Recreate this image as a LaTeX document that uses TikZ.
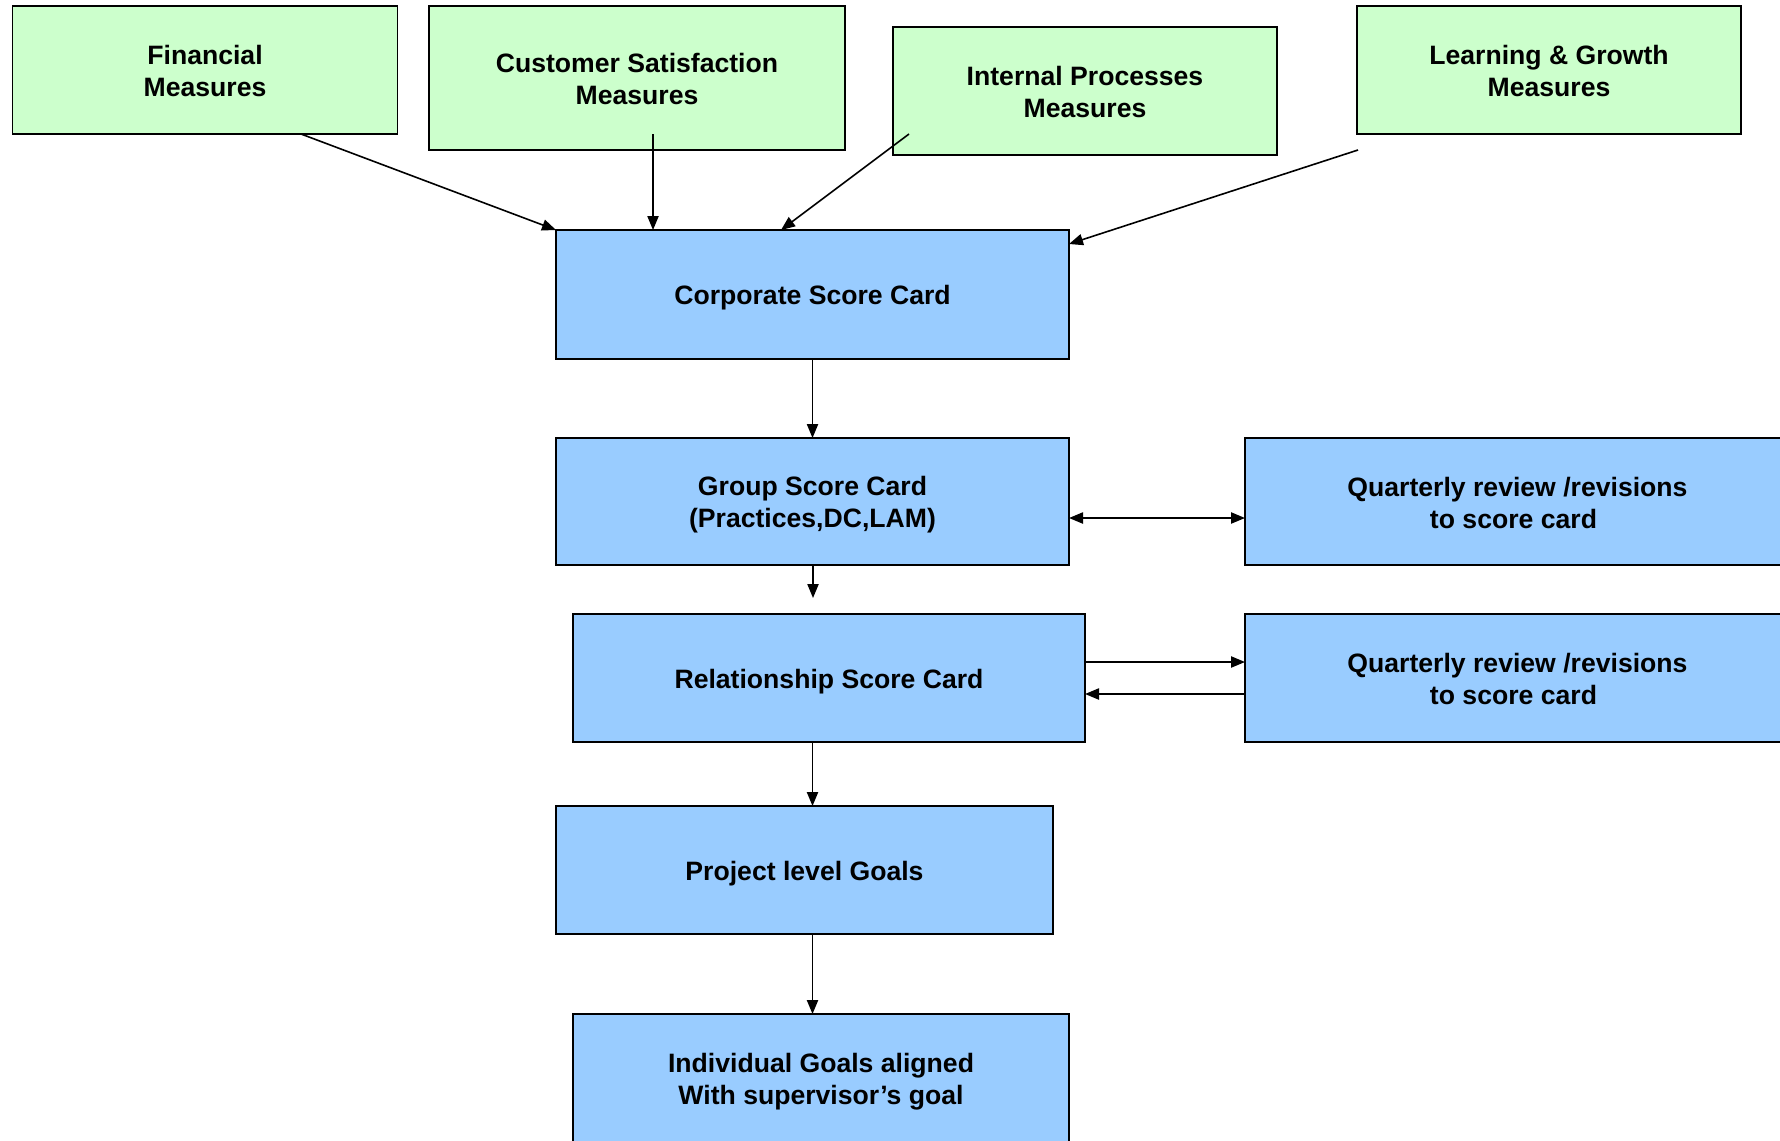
\documentclass[tikz,border=0pt]{standalone}
\usepackage{fontspec}
\setmainfont{Liberation Sans}
\usetikzlibrary{arrows.meta}
\definecolor{measuregreen}{HTML}{CCFFCC}
\definecolor{cardblue}{HTML}{99CCFF}
\begin{document}
\begin{tikzpicture}[x=0.5pt,y=-0.5pt,
  boxtext/.style={align=center, inner sep=0pt,
    font=\fontsize{13.3}{16}\selectfont\bfseries},
  box/.style 2 args={draw=black, line width=0.95pt, inner sep=0pt, outer sep=0pt,
    label={[boxtext, yshift=#2]center:{#1}}},
  measure/.style={box={#1}{-0.4pt}, fill=measuregreen},
  card/.style={box={#1}{-1.6pt}, fill=cardblue},
  review/.style={box={#1}{-0.5pt}, fill=cardblue},
  conn/.style={line width=0.8pt, -{Triangle[length=7pt,width=5.6pt]}},
  both/.style={line width=0.8pt, {Triangle[length=7pt,width=5.6pt]}-{Triangle[length=7pt,width=5.6pt]}}]
\useasboundingbox (0,0) rectangle (1780,1140);
\clip (0,0) rectangle (1780,1140);

% perspective measures
\node[measure={Financial\\Measures}, minimum width=192.5pt, minimum height=64pt] (fin) at (205,70) {};
\node[measure={Customer Satisfaction\\Measures}, minimum width=208pt, minimum height=72pt] (cust) at (637,78) {};
\node[measure={Internal Processes\\Measures}, minimum width=192pt, minimum height=64pt] (intp) at (1085,91) {};
\node[measure={Learning \& Growth\\Measures}, minimum width=192pt, minimum height=64pt] (learn) at (1549,70) {};

% score card cascade
\node[card={Corporate Score Card}, minimum width=256.5pt, minimum height=64.5pt] (corp) at (812.5,294.5) {};
\node[card={Group Score Card\\(Practices,DC,LAM)}, minimum width=256.5pt, minimum height=63.5pt] (group) at (812.5,501.5) {};
\node[card={Relationship Score Card}, minimum width=256pt, minimum height=64pt] (rel) at (829,678) {};
\node[card={Project level Goals}, minimum width=248.5pt, minimum height=64pt] (proj) at (804.5,870) {};
\node[card={Individual Goals aligned\\With supervisor’s goal}, minimum width=248pt, minimum height=64pt] (indiv) at (821,1078) {};

% review boxes
\node[review={Quarterly review /revisions\\to score card\hspace*{4pt}}, minimum width=272.5pt, minimum height=63.5pt] (rev1) at (1517.5,501.5) {};
\node[review={Quarterly review /revisions\\to score card\hspace*{4pt}}, minimum width=272.5pt, minimum height=64pt] (rev2) at (1517.5,678) {};

% connector ends
\coordinate (finout) at (301,134);
\coordinate (custout) at (653,134);
\coordinate (intout) at (909,134);
\coordinate (learnout) at (1358,150);
\coordinate (custin) at (653,230);
\coordinate (intin) at (781,230);
\coordinate (learnin) at (1069,244);
\coordinate (grpdown) at (813,565);
\coordinate (reltip) at (813,598);

\draw[conn] (finout) -- (corp.north west);
\draw[conn] (custout) -- (custin);
\draw[conn] (intout) -- (intin);
\draw[conn] (learnout) -- (learnin);

\draw[conn] (corp.south) -- (group.north);
\draw[conn] (grpdown) -- (reltip);
\draw[conn] (rel.south -| corp.south) -- (proj.north -| corp.south);
\draw[conn] (proj.south -| corp.south) -- (indiv.north -| corp.south);

\draw[both] ([yshift=-8.25pt]group.east) -- ([yshift=-8.25pt]group.east -| rev1.west);
\draw[conn] ([yshift=8pt]rel.east) -- ([yshift=8pt]rel.east -| rev2.west);
\draw[conn] ([yshift=-8pt]rel.east -| rev2.west) -- ([yshift=-8pt]rel.east);
\end{tikzpicture}
\end{document}
